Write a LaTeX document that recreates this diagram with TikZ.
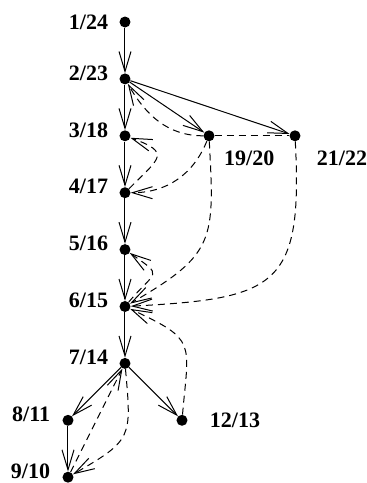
\documentclass[tikz,border=0pt]{standalone}
\usepackage{fontspec}
\setmainfont{Liberation Serif}
\usetikzlibrary{arrows.meta, positioning}
\tikzstyle{vertex} = [circle, fill=black, inner sep=0pt, minimum size=11pt]
\tikzstyle{tag} = [font=\fontsize{22}{22}\selectfont\bfseries, inner sep=0pt]
\tikzstyle{tagup} = [tag, label distance=11pt, yshift=6pt]
\tikzstyle{tree} = [draw, line width=1pt, -{Straight Barb[length=20pt,width=12pt]}]
\tikzstyle{back} = [tree, dash pattern=on 7pt off 5pt]
\begin{document}
\begin{tikzpicture}[node distance = 56.9pt]
        \useasboundingbox (-125pt,22pt) rectangle (242pt,-461pt);
        % Place nodes
        \node [vertex, label={[tag, label distance=11pt]left:1/24}] (v1) {};
        \node [vertex, below of=v1, label={[tagup]left:2/23}] (v2) {};
        \node [vertex, below of=v2, label={[tagup]left:3/18}] (v3) {};
        \node [vertex, below of=v3, label={[tagup]left:4/17}] (v4) {};
        \node [vertex, below of=v4, label={[tagup]left:5/16}] (v5) {};
        \node [vertex, below of=v5, label={[tagup]left:6/15}] (v6) {};
        \node [vertex, below of=v6, label={[tagup]left:7/14}] (v7) {};
        \node [vertex, below of=v7, xshift=-57pt, label={[tagup, label distance=12pt]left:8/11}] (v8) {};
        \node [vertex, below of=v8, label={[tagup, label distance=12pt]left:9/10}] (v9) {};
        \node [vertex, below of=v7, xshift=57pt, label={[tag, label distance=22pt]right:12/13}] (v12) {};
        \node [vertex, right of=v3, node distance=84pt, label={[tag, label distance=15.5pt]-45:19/20}] (v19) {};
        \node [vertex, right of=v19, node distance=86pt, label={[tag, label distance=25pt, yshift=7pt]-45:21/22}] (v21) {};
        % Draw tree edges
        \path [tree] (v1) -- (v2);
        \path [tree] (v2) -- (v3);
        \path [tree] (v3) -- (v4);
        \path [tree] (v4) -- (v5);
        \path [tree] (v5) -- (v6);
        \path [tree] (v6) -- (v7);
        \path [tree] (v7) -- (v8);
        \path [tree] (v8) -- (v9);
        \path [tree] (v7) -- (v12);
        \path [tree] (v2) -- (v19);
        \path [tree] (v2) -- (v21);
        % Draw other edges
        \path [draw, line width=1pt, dash pattern=on 7pt off 5pt] (v19) -- (v21);
        \path [back] (v19) to[out=180, in=-60] (v2);
        \path [back] (v4) to[out=45, in=-20, looseness=2.2] (v3);
        \path [back] (v19) to[out=-112, in=0] (v4);
        \path [back] (v6) to[out=50, in=-35, looseness=2.2] (v5);
        \path [back] (v19) to[out=-87, in=30, looseness=1.4] (v6);
        \path [back] (v21) to[out=-87, in=3, looseness=1.6] (v6);
        \path [back] (v12) to[out=85, in=-25, looseness=1.6] (v6);
        \path [back] (v9) -- (v7);
        \path [back] (v7) to[out=-85, in=30, looseness=1.5] (v9);
\end{tikzpicture}
\end{document}
